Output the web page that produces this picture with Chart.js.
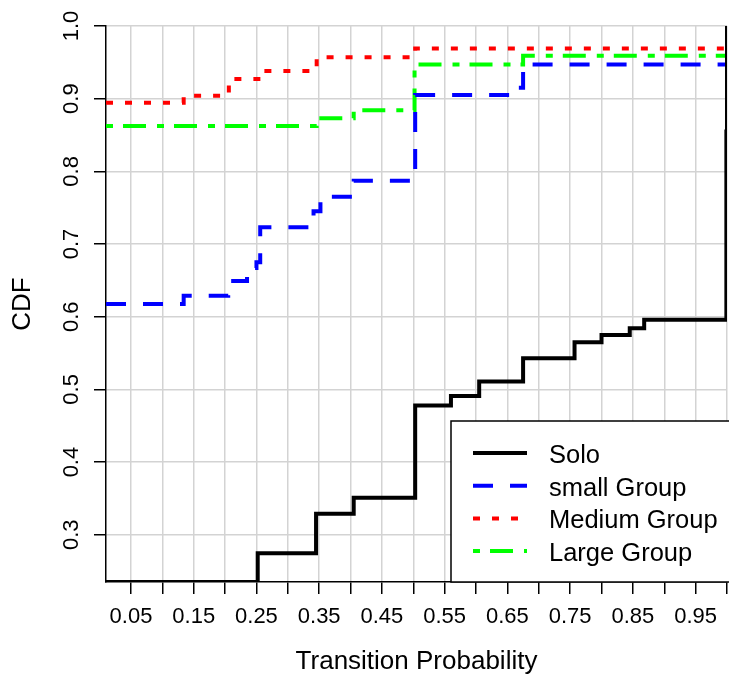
<!DOCTYPE html>
<html>
<head>
<meta charset="utf-8">
<script src="https://cdn.jsdelivr.net/npm/chart.js@4.4.1/dist/chart.umd.min.js"></script>
<style>
  html, body { margin: 0; padding: 0; background: #fff; }
  canvas { display: block; }
</style>
</head>
<body>
<canvas id="cdfChart" width="729" height="680"></canvas>
<script>
// ECDF steps (x = transition probability, y = CDF)
var soloX  = [0.0102, 0.252, 0.345, 0.405, 0.503, 0.560, 0.605, 0.675, 0.757, 0.800, 0.845, 0.868, 0.999, 1.0];
var soloY  = [0.235, 0.2745, 0.329, 0.351, 0.478, 0.491, 0.511, 0.543, 0.565, 0.575, 0.584, 0.596, 0.855, 1.0];

var smallX = [0.0102, 0.134, 0.205, 0.235, 0.250, 0.256, 0.341, 0.352, 0.405, 0.497, 0.503, 0.668, 0.675, 0.685, 1.0];
var smallY = [0.6176, 0.629, 0.649, 0.667, 0.675, 0.723, 0.745, 0.765, 0.787, 0.795, 0.905, 0.915, 0.937, 0.947, 1.0];

var mediumX = [0.0102, 0.134, 0.206, 0.261, 0.346, 0.503, 0.999, 1.0];
var mediumY = [0.8945, 0.904, 0.927, 0.938, 0.957, 0.969, 0.980, 1.0];

var largeX = [0.0102, 0.346, 0.405, 0.502, 0.675, 1.0];
var largeY = [0.8624, 0.873, 0.884, 0.947, 0.959, 1.0];

var seriesNames = ['Solo', 'small Group', 'Medium Group', 'Large Group'];

var xTicks = [0.05, 0.10, 0.15, 0.20, 0.25, 0.30, 0.35, 0.40, 0.45, 0.50,
              0.55, 0.60, 0.65, 0.70, 0.75, 0.80, 0.85, 0.90, 0.95, 1.00];
var xTickLabels = ['0.05', '', '0.15', '', '0.25', '', '0.35', '', '0.45', '',
                   '0.55', '', '0.65', '', '0.75', '', '0.85', '', '0.95', ''];
var yTicks = [0.3, 0.4, 0.5, 0.6, 0.7, 0.8, 0.9, 1.0];
var yTickLabels = ['0.3', '0.4', '0.5', '0.6', '0.7', '0.8', '0.9', '1.0'];

function toPoints(xs, ys) {
    return xs.map(function (x, i) { return { x: x, y: ys[i] }; });
}

var FONT = '"Liberation Sans", Arial, sans-serif';

// legend drawn inside the plot, bottom right, like R's legend()
var boxLegend = {
    id: 'boxLegend',
    afterDatasetsDraw: function (chart) {
        var ctx = chart.ctx;
        var area = chart.chartArea;
        var left = 451, top = 421;
        ctx.save();
        ctx.fillStyle = '#ffffff';
        ctx.fillRect(left, top, 320, area.bottom - top);
        ctx.strokeStyle = '#000000';
        ctx.lineWidth = 1.5;
        ctx.strokeRect(left, top, 320, area.bottom - top);
        chart.data.datasets.forEach(function (ds, i) {
            var y = 453 + i * 32.7;
            ctx.beginPath();
            ctx.setLineDash(ds.borderDash || []);
            ctx.strokeStyle = ds.borderColor;
            ctx.lineWidth = ds.borderWidth;
            ctx.moveTo(473, y);
            ctx.lineTo(527, y);
            ctx.stroke();
            ctx.setLineDash([]);
            ctx.fillStyle = '#000000';
            ctx.font = '25.5px ' + FONT;
            ctx.textBaseline = 'middle';
            ctx.textAlign = 'left';
            ctx.fillText(ds.label, 549, y + 3);
        });
        ctx.restore();
    }
};

var ctx = document.getElementById('cdfChart').getContext('2d');

var cdfChart = new Chart(ctx, {
    type: 'line',
    data: {
        datasets: [{
            label: seriesNames[0],
            data: toPoints(soloX, soloY),
            borderColor: '#000000',
            borderWidth: 4
        }, {
            label: seriesNames[1],
            data: toPoints(smallX, smallY),
            borderColor: '#0000ff',
            borderWidth: 4,
            borderDash: [20, 17]
        }, {
            label: seriesNames[2],
            data: toPoints(mediumX, mediumY),
            borderColor: '#ff0000',
            borderWidth: 4,
            borderDash: [7, 12]
        }, {
            label: seriesNames[3],
            data: toPoints(largeX, largeY),
            borderColor: '#00ff00',
            borderWidth: 4,
            borderDash: [7, 10, 23, 11]
        }]
    },
    options: {
        responsive: false,
        animation: false,
        clip: 0,
        elements: {
            line: { stepped: true, fill: false, tension: 0 },
            point: { radius: 0 }
        },
        layout: { padding: { left: 0, right: 2, top: 26, bottom: 0 } },
        plugins: {
            legend: { display: false },
            tooltip: { enabled: false }
        },
        scales: {
            x: {
                type: 'linear',
                min: 0.0102,
                max: 1.0,
                afterBuildTicks: function (scale) {
                    scale.ticks = xTicks.map(function (v) { return { value: v }; });
                },
                afterFit: function (scale) {
                    scale.height = 98;
                    scale.paddingLeft = 0;
                    scale.paddingRight = 0;
                },
                ticks: {
                    autoSkip: false,
                    maxRotation: 0,
                    minRotation: 0,
                    padding: 10,
                    color: '#000000',
                    font: { family: FONT, size: 22 },
                    callback: function (value, index) { return xTickLabels[index]; }
                },
                grid: {
                    color: '#d3d3d3',
                    lineWidth: 1.5,
                    tickColor: '#000000',
                    tickLength: 12,
                    tickWidth: 1.5
                },
                border: { color: '#000000', width: 1.5 },
                title: {
                    display: true,
                    text: 'Transition Probability',
                    color: '#000000',
                    font: { family: FONT, size: 26 },
                    padding: { top: 0, bottom: 3 }
                }
            },
            y: {
                type: 'linear',
                min: 0.235,
                max: 1.0,
                afterBuildTicks: function (scale) {
                    scale.ticks = yTicks.map(function (v) { return { value: v }; });
                },
                afterFit: function (scale) {
                    scale.width = 106;
                    scale.paddingTop = 0;
                    scale.paddingBottom = 0;
                },
                ticks: {
                    autoSkip: false,
                    minRotation: 90,
                    maxRotation: 90,
                    crossAlign: 'center',
                    padding: 7,
                    color: '#000000',
                    font: { family: FONT, size: 22 },
                    callback: function (value, index) { return yTickLabels[index]; }
                },
                grid: {
                    color: '#d3d3d3',
                    lineWidth: 1.5,
                    tickColor: '#000000',
                    tickLength: 12,
                    tickWidth: 1.5
                },
                border: { color: '#000000', width: 1.5 },
                title: {
                    display: true,
                    text: 'CDF',
                    color: '#000000',
                    font: { family: FONT, size: 26 },
                    padding: { top: 7, bottom: 0 }
                }
            }
        }
    },
    plugins: [boxLegend]
});
</script>
</body>
</html>
